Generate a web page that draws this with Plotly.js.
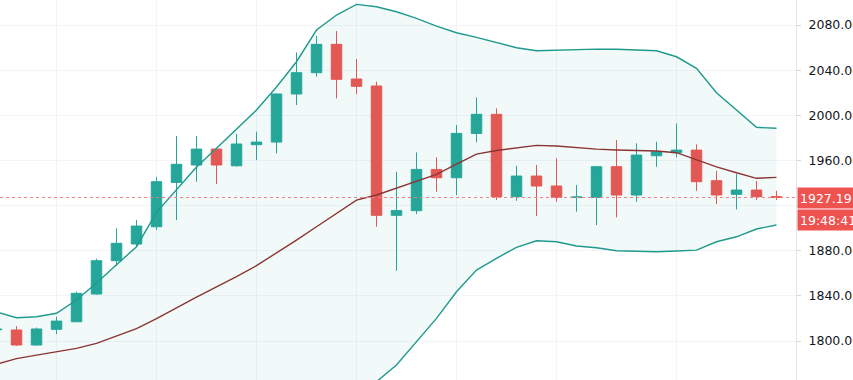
<!DOCTYPE html>
<html>
<head>
<meta charset="utf-8">
<script src="https://cdn.plot.ly/plotly-3.0.1.min.js"></script>
<style>html,body{margin:0;padding:0;background:#fff;}#chart{width:853px;height:380px;}</style>
</head>
<body>
<div id="chart"></div>
<script>
// bar index (session number, -1 is the partly visible first bar)
const sessions = [-1,0,1,2,3,4,5,6,7,8,9,10,11,12,13,14,15,16,17,18,19,20,21,22,23,24,25,26,27,28,29,30,31,32,33,34,35,36,37,38];
const opens  = [1810,1809.8,1796.5,1810.4,1817.1,1841.7,1871.2,1886,1901.3,1940.6,1956,1970.1,1955.3,1974,1976.3,2018.9,2037.8,2062.9,2032.2,2026,1911.4,1915.5,1952.1,1944.7,1984,2000.9,1927.9,1946.2,1937.4,1927.3,1927.3,1954.5,1929.4,1964.2,1966.9,1969.2,1942.1,1930,1933.8,1928];
const highs  = [1813,1813.3,1812,1821.6,1843.7,1873,1899.9,1907.2,1945.6,1981.7,1981.7,1970.5,1983.4,1985.5,2019.5,2055.8,2070.3,2074.7,2049.9,2029.8,1950,1967.2,1962.8,1991.4,2015.9,2006.2,1955.3,1956,1961.9,1938.2,1955,1978.1,1975.2,1976.6,1992.9,1974.3,1950.9,1948,1941.8,1933.2];
const lows   = [1808,1795.6,1796,1806.2,1817,1841,1866.5,1884,1898.4,1907.2,1941.2,1939.1,1954.5,1960.4,1966.3,2009.1,2034.2,2015,2018.9,1901.3,1862.3,1912.5,1932.3,1929.4,1976.1,1925,1924.3,1910.8,1923.4,1914.6,1902.8,1909.6,1923.4,1954.5,1962.8,1933.2,1921.4,1916.7,1925,1925];
const closes = [1810.5,1796.5,1810.7,1817.7,1842.3,1871.2,1886.6,1901.9,1941.2,1956.6,1970.1,1956,1974.6,1976.3,2018.9,2037.8,2062.9,2031.9,2025.7,1911.4,1915.6,1952.1,1944.7,1984,2000.9,1927.9,1946.2,1937.4,1927.3,1927.6,1954.5,1929.4,1964.8,1967.7,1969.2,1941.2,1929.4,1933.8,1927.9,1927.19];
// Bollinger bands (20)
const bbUpper  = [1825.7,1820.7,1821.6,1824.6,1836.4,1851.4,1867.6,1883.6,1914,1934,1954.2,1970.8,1987.9,2004.7,2025.1,2047.5,2075.6,2088.9,2098.3,2096.2,2091.8,2085.9,2079.1,2073.2,2069.1,2064.3,2059.9,2057.2,2057.8,2058.7,2058.7,2058.5,2057.8,2057.2,2051.9,2041.6,2020,2004.7,1989.4,1988.5];
const bbBasis  = [1779.5,1784.5,1787.5,1790.5,1793.5,1798,1804.5,1811,1819.8,1829.5,1839,1848,1857,1866.8,1878,1889.5,1901.3,1913.2,1924.9,1929.4,1935.6,1941.2,1947.7,1956.8,1965.7,1968.8,1971.2,1973.4,1972.8,1971.3,1970.1,1969.3,1968.6,1968.4,1966.9,1960.4,1954.4,1949.1,1944.2,1945];
const bbLower  = [1731,1746,1752,1755,1749,1743,1740,1737,1722,1724,1723,1724,1725,1728,1730,1731,1727,1737,1751,1764,1778.8,1799.4,1820.1,1843.7,1862.9,1873.3,1883.1,1888.9,1888,1884.2,1882.7,1880,1879.5,1879.1,1879.8,1880.6,1888,1892.4,1899.3,1902.8];
// vertical time grid positions (session index)
const timeGrid = [2,7,12,17,22,27,33];
const priceTicks = [1800,1840,1880,1920,1960,2000,2040,2080];
const priceTickLabels = ['1800.00','1840.00','1880.00','','1960.00','2000.00','2040.00','2080.00'];
const lastPriceLabel = "1927.19";
const countdownLabel = "19:48:41";

const UP = '#26a69a', DOWN = '#ef5350', BAND = '#1f9a8c', BASIS = '#8c3434';
const lastClose = closes[closes.length - 1];

const traces = [
  {x: sessions, y: bbUpper, type: 'scatter', mode: 'lines', line: {color: BAND, width: 1.4}, hoverinfo: 'skip', showlegend: false},
  {x: sessions, y: bbLower, type: 'scatter', mode: 'lines', line: {color: BAND, width: 1.4}, fill: 'tonexty', fillcolor: 'rgba(38,166,154,0.06)', hoverinfo: 'skip', showlegend: false},
  {x: sessions, y: bbBasis, type: 'scatter', mode: 'lines', line: {color: BASIS, width: 1.4}, hoverinfo: 'skip', showlegend: false},
  {x: sessions, open: opens, high: highs, low: lows, close: closes, type: 'candlestick',
   increasing: {line: {color: UP, width: 1}, fillcolor: UP},
   decreasing: {line: {color: DOWN, width: 1}, fillcolor: DOWN},
   whiskerwidth: 0, showlegend: false}
];

const layout = {
  width: 853, height: 380,
  margin: {l: 0, r: 57, t: 0, b: 0},
  paper_bgcolor: '#ffffff', plot_bgcolor: '#ffffff',
  showlegend: false,
  boxgap: 0.25,
  xaxis: {range: [-0.825, 38.975], tickmode: 'array', tickvals: timeGrid, showticklabels: false,
          showgrid: true, gridcolor: '#f2f4f9', gridwidth: 1, zeroline: false, rangeslider: {visible: false}, fixedrange: true, showline: false},
  yaxis: {side: 'right', range: [1765.5, 2102.2], tickmode: 'array', tickvals: priceTicks, ticktext: priceTickLabels,
          showgrid: true, gridcolor: '#f2f4f9', gridwidth: 1, zeroline: false,
          showline: true, linecolor: '#e0e3eb', linewidth: 1, mirror: false,
          ticks: 'outside', ticklen: 4, tickcolor: '#d6d9e0', ticklabelstandoff: 5,
          tickfont: {family: 'DejaVu Sans, sans-serif', size: 12.5, color: '#131722'}},
  shapes: [
    {type: 'line', xref: 'paper', x0: 0, x1: 1, yref: 'y', y0: lastClose, y1: lastClose,
     line: {color: '#f08080', width: 1, dash: 'dot'}}
  ],
  annotations: [
    {xref: 'paper', x: 1.001, xanchor: 'left', yref: 'y', y: lastClose, yanchor: 'middle',
     text: lastPriceLabel, showarrow: false, bgcolor: DOWN, width: 62, height: 16, align: 'left', borderpad: 2,
     font: {family: 'DejaVu Sans, sans-serif', size: 12.5, color: '#ffffff'}},
    {xref: 'paper', x: 1.001, xanchor: 'left', yref: 'y', y: lastClose, yanchor: 'middle', yshift: -22,
     text: countdownLabel, showarrow: false, bgcolor: DOWN, width: 62, height: 16, align: 'left', borderpad: 2,
     font: {family: 'DejaVu Sans, sans-serif', size: 12.5, color: '#ffffff'}}
  ]
};

Plotly.newPlot('chart', traces, layout, {staticPlot: true, displayModeBar: false});
</script>
</body>
</html>
